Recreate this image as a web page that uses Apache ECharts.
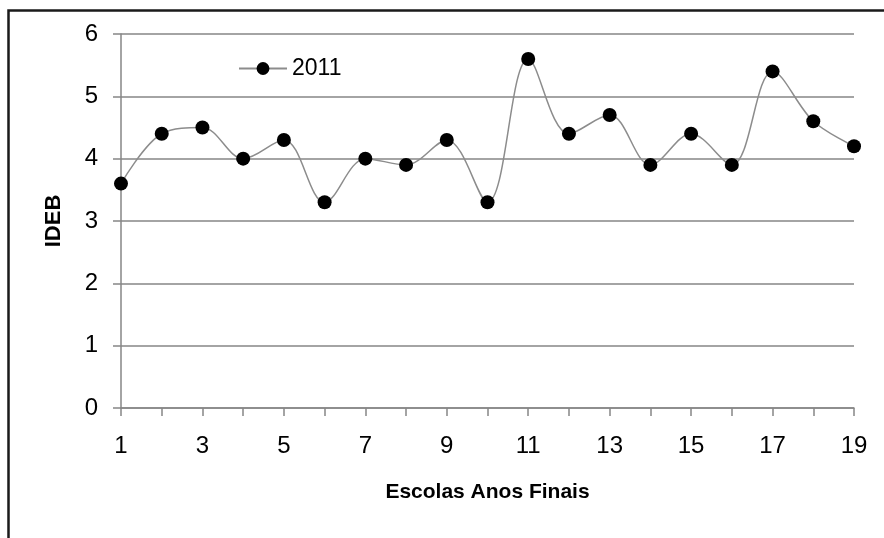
<!DOCTYPE html>
<html>
<head>
<meta charset="utf-8">
<script src="https://cdn.jsdelivr.net/npm/echarts@6/dist/echarts.min.js"></script>
<style>html,body{margin:0;padding:0;background:#fff}#c{width:884px;height:538px}</style>
</head>
<body>
<div id="c"></div>
<script>
const categories = ['1','2','3','4','5','6','7','8','9','10','11','12','13','14','15','16','17','18','19'];
const values2011 = [3.6, 4.4, 4.5, 4.0, 4.3, 3.3, 4.0, 3.9, 4.3, 3.3, 5.6, 4.4, 4.7, 3.9, 4.4, 3.9, 5.4, 4.6, 4.2];
const seriesName = '2011';
const yTicks = [0, 1, 2, 3, 4, 5, 6];

const FONT = "'Liberation Sans', sans-serif";
const chart = echarts.init(document.getElementById('c'), null, {renderer: 'canvas'});
chart.setOption({
  animation: false,
  backgroundColor: '#fff',
  graphic: [{
    type: 'rect', left: 6, top: 8, z: 100, silent: true,
    shape: {x: 0, y: 0, width: 900, height: 600},
    style: {fill: 'none', stroke: '#1a1a1a', lineWidth: 2.5}
  }],
  grid: {left: 121, right: 30, top: 34, bottom: 130},
  legend: {
    left: 233, top: 52, itemWidth: 48, itemHeight: 16, itemGap: 6,
    data: [seriesName],
    textStyle: {fontFamily: FONT, fontSize: 23, color: '#000'}
  },
  xAxis: {
    type: 'category', data: categories, boundaryGap: false,
    name: 'Escolas Anos Finais', nameLocation: 'middle', nameGap: 74,
    nameTextStyle: {fontFamily: FONT, fontSize: 21, fontWeight: 'bold', color: '#000'},
    axisLine: {lineStyle: {color: '#868686', width: 1.5}},
    axisTick: {show: true, interval: 0, length: 8, lineStyle: {color: '#868686', width: 1.5}},
    axisLabel: {interval: 1, margin: 26, fontFamily: FONT, fontSize: 24, color: '#000'},
    splitLine: {show: false}
  },
  yAxis: {
    type: 'value', min: yTicks[0], max: yTicks[yTicks.length - 1], interval: 1,
    name: 'IDEB', nameLocation: 'middle', nameGap: 56, nameRotate: 90,
    nameTextStyle: {fontFamily: FONT, fontSize: 22, fontWeight: 'bold', color: '#000'},
    axisLine: {show: true, lineStyle: {color: '#868686', width: 1.5}},
    axisTick: {show: true, length: 8, lineStyle: {color: '#868686', width: 1.5}},
    axisLabel: {margin: 23, fontFamily: FONT, fontSize: 24, color: '#000'},
    splitLine: {show: true, lineStyle: {color: '#868686', width: 1.5}}
  },
  series: [{
    name: seriesName, type: 'line', data: values2011, smooth: 0.35,
    symbol: 'circle', symbolSize: 14,
    lineStyle: {color: '#8c8c8c', width: 1.5},
    itemStyle: {color: '#000'}
  }]
});
</script>
</body>
</html>
